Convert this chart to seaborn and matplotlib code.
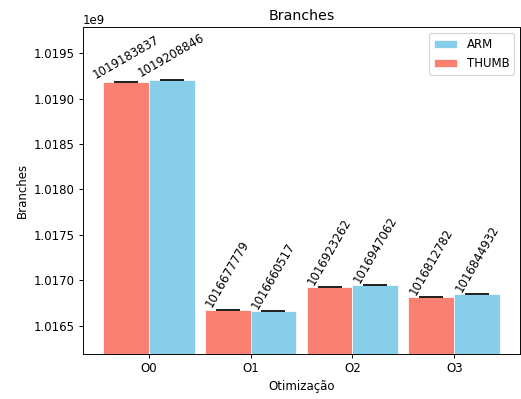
import matplotlib
matplotlib.use("Agg")
import matplotlib.pyplot as plt
import seaborn as sns
import pandas as pd
import numpy as np

# Branch counts per optimization level and instruction set
levels = ["O0", "O1", "O2", "O3"]
thumb = [1019183837, 1016677779, 1016923262, 1016812782]
arm = [1019208846, 1016660517, 1016947062, 1016844932]
label_rotation = [30, 60, 60, 60]

df = pd.DataFrame({
    "Otimização": levels * 2,
    "Branches": thumb + arm,
    "Modo": ["THUMB"] * len(levels) + ["ARM"] * len(levels),
})

DPI = 85
fig = plt.figure(figsize=(521 / DPI, 399 / DPI), dpi=DPI)
ax = fig.add_axes([83 / 521, 1 - 354 / 399, (520 - 83) / 521, (354 - 27.5) / 399])

palette = {"THUMB": "salmon", "ARM": "skyblue"}
sns.barplot(data=df, x="Otimização", y="Branches", hue="Modo",
            hue_order=["THUMB", "ARM"], palette=palette, width=0.9,
            errorbar=None, edgecolor="white", linewidth=0.6, ax=ax,
            saturation=1)

# Value labels and zero-width error caps on each bar
for container, values in zip(ax.containers, [thumb, arm]):
    for i, (patch, v) in enumerate(zip(container.patches, values)):
        xc = patch.get_x() + patch.get_width() / 2
        ax.errorbar(xc, v, yerr=0, fmt="none", ecolor="#222222",
                    capsize=10.5, capthick=1.5, elinewidth=1.0)
        ax.text(xc, v, str(v), ha="center", va="bottom",
                rotation=label_rotation[i], fontsize=10)

ax.set_xlim(-0.645, 3.645)
ax.set_ylim(1.016188e9, 1.019784e9)
ax.set_yticks(np.arange(1.0165e9, 1.01951e9, 0.0005e9))
ax.set_title("Branches")
ax.set_xlabel("Otimização")
ax.set_ylabel("Branches")

handles, labels = ax.get_legend_handles_labels()
order = [labels.index("ARM"), labels.index("THUMB")]
ax.legend([handles[k] for k in order], [labels[k] for k in order],
          loc="upper right")

fig.savefig("out.png", dpi=DPI)
